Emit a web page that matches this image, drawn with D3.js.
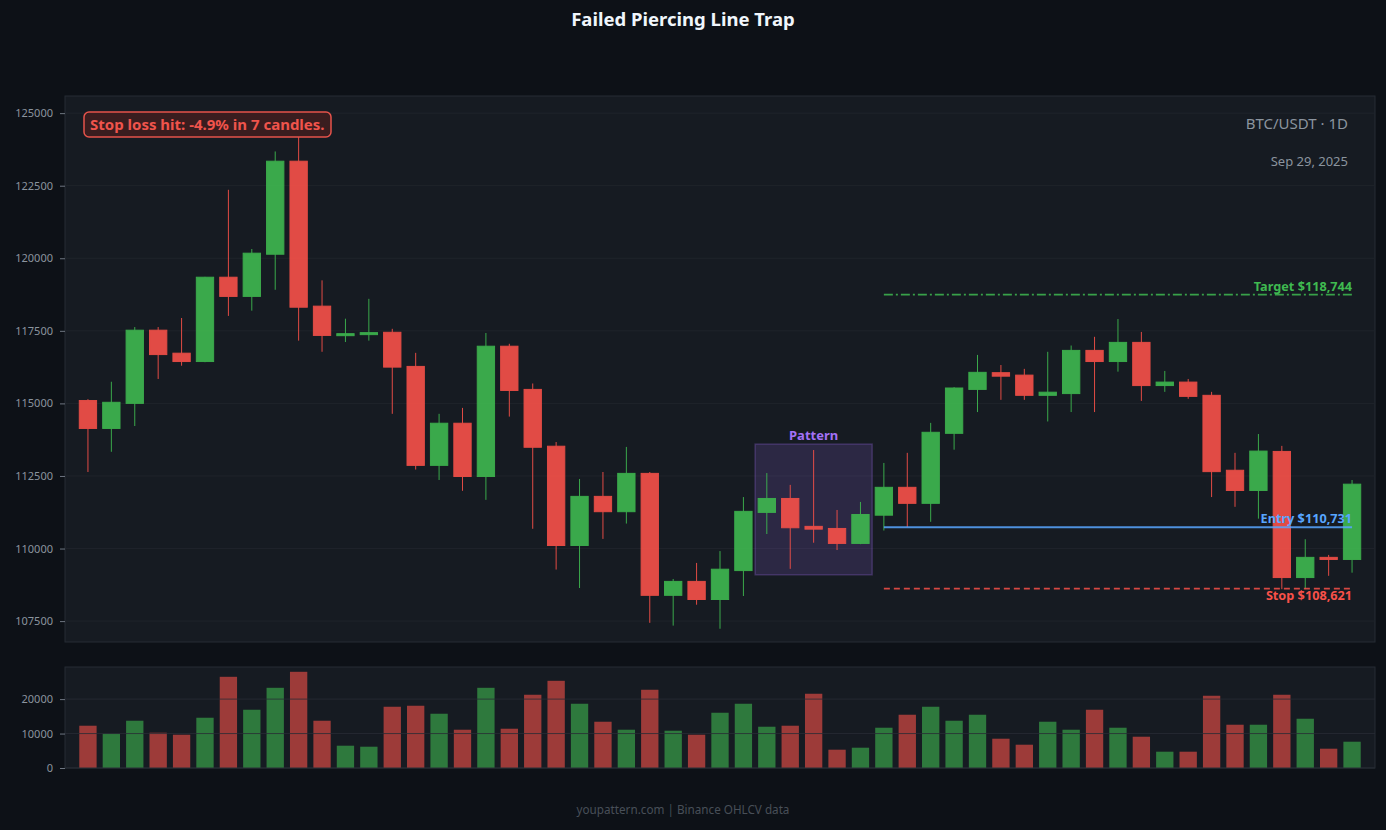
<!DOCTYPE html>
<html>
<head>
<meta charset="utf-8">
<script src="https://cdn.jsdelivr.net/npm/d3@7"></script>
<style>
  html, body { margin: 0; padding: 0; background: #0d1117; }
  svg { display: block; font-family: "Noto Sans", "Open Sans", sans-serif; }
</style>
</head>
<body>
<svg id="chart" width="1386" height="830"></svg>
<script>
// OHLCV, 55 daily candles ending Sep 29, 2025
var opens  = [115098,114137,115001,117522,116730,116442,119347,118686,120139,123344,
              118350,117354,117390,117450,116274,112865,114317,112481,116970,115482,
              113525,110104,111797,111269,112589,108388,108868,108244,109240,111245,
              111725,110764,110692,110176,111149,112109,111557,113969,115482,116058,
              115974,115278,115338,116826,116442,117102,115614,115734,115278,112697,
              112001,113345,109000,109696,109624];
var highs  = [115146,115746,117630,117630,117942,119360,122359,120319,123680,124900,
              119239,117918,118602,117570,116742,114641,114845,117426,117054,115686,
              113669,112397,112637,113501,112637,108952,109504,109912,111773,112601,
              112193,113393,111329,111605,112949,113297,114329,115560,116670,116322,
              116190,116778,116994,117294,117906,117462,116118,115842,115398,113297,
              113945,113537,110320,109780,112361];
var lows   = [112637,113333,114221,115842,116298,116420,118014,118194,118914,117162,
              116778,117114,117162,114641,112721,112361,111989,111677,114545,110680,
              109276,108640,110332,110860,107440,107344,108064,107236,108364,110500,
              109300,110200,109948,110150,110620,110740,110920,113405,114701,115122,
              115122,114377,114701,114701,116094,115086,115398,115158,111773,111437,
              111029,108600,108600,109060,109168];
var closes = [114137,115038,117522,116682,116442,119347,118686,120175,123344,118314,
              117342,117402,117438,116250,112865,114317,112481,116970,115446,113489,
              110104,111797,111269,112589,108388,108868,108244,109288,111281,111725,
              110716,110668,110176,111173,112109,111557,114005,115530,116070,115938,
              115278,115386,116826,116442,117102,115614,115734,115242,112649,112001,
              113357,109000,109696,109624,112217];
var volumes = [12270,9950,13720,10240,9660,14590,26470,16910,23280,27920,
               13720,6470,6180,17780,18070,15750,11110,23280,11400,21260,
               25310,18650,13430,11110,22710,10820,9660,16040,18650,11980,
               12270,21550,5310,5890,11690,15460,17780,13720,15460,8500,
               6760,13430,11110,16910,11690,9080,4730,4730,20970,12560,
               12560,21260,14300,5600,7630];

var priceTicks = [107500,110000,112500,115000,117500,120000,122500,125000];
var volumeTicks = [0,10000,20000];

var patternStart = 29, patternEnd = 33, entryIndex = 34;
var entryPrice = 110731, stopPrice = 108621, targetPrice = 118744;

var green = "#3fb950", red = "#f85149";
var W = 1386, midX = 683;
var main = {left: 65, right: 1375, top: 96, bottom: 642};
var vol = {top: 667, bottom: 768};

var idx = d3.range(opens.length);
var svg = d3.select("#chart");

svg.append("rect").attr("width", W).attr("height", 830).attr("fill", "#0d1117");

var x = d3.scaleBand().domain(idx).range([main.left, main.right])
    .paddingInner(0.26).paddingOuter(0.61);
var cx = function(i) { return x(i) + x.bandwidth() / 2; };
var y = d3.scaleLinear().domain([106780, 125590]).range([main.bottom, main.top]);
var yv = d3.scaleLinear().domain([0, d3.max(volumes) * 1.05]).range([vol.bottom, vol.top]);

// title
svg.append("text").attr("x", midX).attr("y", 26).attr("text-anchor", "middle")
    .attr("fill", "#f0f6fc").attr("font-size", 18.5).attr("font-weight", "bold")
    .text("Failed Piercing Line Trap");

// panels
svg.append("rect").attr("x", main.left).attr("y", main.top)
    .attr("width", main.right - main.left).attr("height", main.bottom - main.top)
    .attr("fill", "#161b22").attr("stroke", "#262c34");
svg.append("rect").attr("x", main.left).attr("y", vol.top)
    .attr("width", main.right - main.left).attr("height", vol.bottom - vol.top)
    .attr("fill", "#161b22").attr("stroke", "#262c34");

// price grid + axis
svg.append("g").selectAll("line").data(priceTicks).join("line")
    .attr("x1", main.left).attr("x2", main.right)
    .attr("y1", function(d) { return y(d); }).attr("y2", function(d) { return y(d); })
    .attr("stroke", "#1f242b").attr("stroke-width", 1);

var yAxis = svg.append("g").attr("transform", "translate(" + main.left + ",0)")
    .call(d3.axisLeft(y).tickValues(priceTicks).tickFormat(d3.format("d")).tickSize(5).tickPadding(7));
yAxis.select(".domain").remove();
yAxis.selectAll("line").attr("stroke", "#6e7681");
yAxis.selectAll("text").attr("fill", "#8b949e").attr("font-size", 11)
    .attr("font-family", "'Noto Sans', sans-serif");

// pattern box
var pHigh = d3.max(highs.slice(patternStart, patternEnd + 1));
var pLow = d3.min(lows.slice(patternStart, patternEnd + 1));
var pPad = (pHigh - pLow) * 0.05;
var px0 = x(patternStart) - x.step() * x.paddingInner() / 2;
var px1 = x(patternEnd) + x.bandwidth() + x.step() * x.paddingInner() / 2;
svg.append("rect").attr("x", px0).attr("y", y(pHigh + pPad))
    .attr("width", px1 - px0).attr("height", y(pLow - pPad) - y(pHigh + pPad))
    .attr("fill", "rgba(163,113,247,0.16)").attr("stroke", "rgba(163,113,247,0.25)").attr("stroke-width", 1.5);
svg.append("text").attr("x", (px0 + px1) / 2).attr("y", y(pHigh + pPad) - 4)
    .attr("text-anchor", "middle").attr("fill", "#a371f7")
    .attr("font-size", 13).attr("font-weight", "bold").text("Pattern");

// candles
var candles = svg.append("g").selectAll("g").data(idx).join("g")
    .attr("fill", function(i) { return closes[i] >= opens[i] ? green : red; })
    .attr("stroke", function(i) { return closes[i] >= opens[i] ? green : red; })
    .attr("opacity", 0.9);
candles.append("line")
    .attr("x1", cx).attr("x2", cx)
    .attr("y1", function(i) { return y(highs[i]); })
    .attr("y2", function(i) { return y(lows[i]); })
    .attr("stroke-width", 1);
candles.append("rect")
    .attr("x", function(i) { return x(i); })
    .attr("width", x.bandwidth())
    .attr("y", function(i) { return y(Math.max(opens[i], closes[i])); })
    .attr("height", function(i) { return Math.max(2, Math.abs(y(opens[i]) - y(closes[i]))); })
    .attr("stroke-width", 1);

// trade levels
var lx0 = cx(entryIndex), lx1 = cx(idx.length - 1);
svg.append("line").attr("x1", lx0).attr("x2", lx1)
    .attr("y1", y(targetPrice)).attr("y2", y(targetPrice))
    .attr("stroke", green).attr("stroke-width", 1.8).attr("stroke-dasharray", "9,3,2,3").attr("opacity", 0.85);
svg.append("line").attr("x1", lx0).attr("x2", lx1)
    .attr("y1", y(entryPrice)).attr("y2", y(entryPrice))
    .attr("stroke", "#58a6ff").attr("stroke-width", 2).attr("opacity", 0.85);
svg.append("line").attr("x1", lx0).attr("x2", lx1)
    .attr("y1", y(stopPrice)).attr("y2", y(stopPrice))
    .attr("stroke", red).attr("stroke-width", 1.8).attr("stroke-dasharray", "6,4").attr("opacity", 0.85);

var fmt = d3.format(",");
svg.append("text").attr("x", lx1).attr("y", y(targetPrice) - 4).attr("text-anchor", "end")
    .attr("fill", green).attr("font-size", 12.7).attr("font-weight", "bold")
    .text("Target $" + fmt(targetPrice));
svg.append("text").attr("x", lx1).attr("y", y(entryPrice) - 4).attr("text-anchor", "end")
    .attr("fill", "#58a6ff").attr("font-size", 12.7).attr("font-weight", "bold")
    .text("Entry $" + fmt(entryPrice));
svg.append("text").attr("x", lx1).attr("y", y(stopPrice) + 11).attr("text-anchor", "end")
    .attr("fill", red).attr("font-size", 12.7).attr("font-weight", "bold")
    .text("Stop $" + fmt(stopPrice));

// annotation
svg.append("rect").attr("x", 84).attr("y", 112).attr("width", 247).attr("height", 25).attr("rx", 5)
    .attr("fill", "#3a1d1f").attr("stroke", "#e5534b").attr("stroke-width", 1.5);
svg.append("text").attr("x", 90).attr("y", 130).attr("fill", "#f0544c")
    .attr("font-size", 15).attr("font-weight", "bold")
    .text("Stop loss hit: -4.9% in 7 candles.");

// symbol + date
svg.append("text").attr("x", 1348).attr("y", 129).attr("text-anchor", "end")
    .attr("fill", "#8b949e").attr("font-size", 15).text("BTC/USDT \u00b7 1D");
svg.append("text").attr("x", 1348).attr("y", 166).attr("text-anchor", "end")
    .attr("fill", "#8b949e").attr("font-size", 13).text("Sep 29, 2025");

// volume
svg.append("g").selectAll("rect").data(idx).join("rect")
    .attr("x", function(i) { return x(i); })
    .attr("width", x.bandwidth())
    .attr("y", function(i) { return yv(volumes[i]); })
    .attr("height", function(i) { return vol.bottom - yv(volumes[i]); })
    .attr("fill", function(i) { return closes[i] >= opens[i] ? green : red; })
    .attr("opacity", 0.6);
svg.append("g").selectAll("line").data(volumeTicks.slice(1)).join("line")
    .attr("x1", main.left).attr("x2", main.right)
    .attr("y1", function(d) { return yv(d); }).attr("y2", function(d) { return yv(d); })
    .attr("stroke", "rgba(40,44,52,0.8)").attr("stroke-width", 1);
svg.append("line").attr("x1", main.left).attr("x2", main.right)
    .attr("y1", vol.bottom).attr("y2", vol.bottom).attr("stroke", "#262c34");

var vAxis = svg.append("g").attr("transform", "translate(" + main.left + ",0)")
    .call(d3.axisLeft(yv).tickValues(volumeTicks).tickFormat(d3.format("d")).tickSize(5).tickPadding(7));
vAxis.select(".domain").remove();
vAxis.selectAll("line").attr("stroke", "#6e7681");
vAxis.selectAll("text").attr("fill", "#8b949e").attr("font-size", 11)
    .attr("font-family", "'Noto Sans', sans-serif");

// footer
svg.append("text").attr("x", midX).attr("y", 814).attr("text-anchor", "middle")
    .attr("fill", "#484f58").attr("font-size", 11.7).text("youpattern.com | Binance OHLCV data");
</script>
</body>
</html>
